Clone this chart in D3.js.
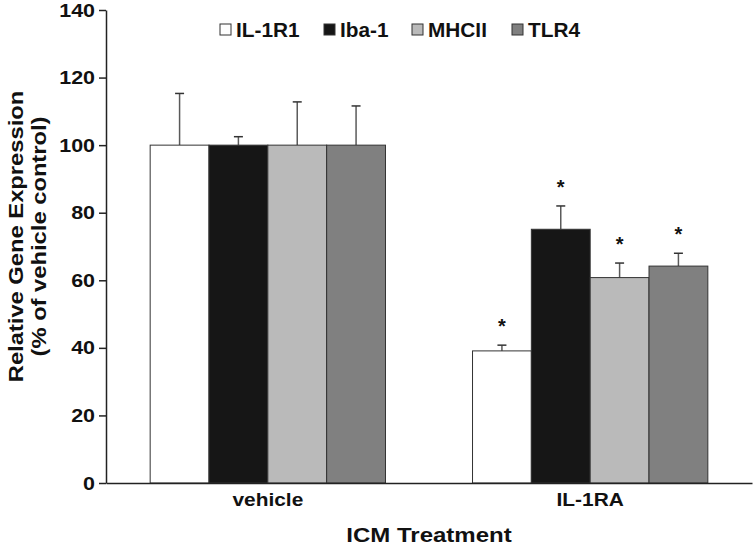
<!DOCTYPE html>
<html>
<head>
<meta charset="utf-8">
<script src="https://cdn.jsdelivr.net/npm/d3@7"></script>
<style>
  html, body { margin: 0; padding: 0; background: #fff; }
  svg { display: block; }
  text { font-family: "Liberation Sans", Arial, Helvetica, sans-serif; font-weight: bold; fill: #111; }
</style>
</head>
<body>
<svg id="chart" width="755" height="549"></svg>
<script>
// ---- data ----
const groups = ["vehicle", "IL-1RA"];
const series = ["IL-1R1", "Iba-1", "MHCII", "TLR4"];
const colors = ["#ffffff", "#161616", "#bababa", "#808080"];
const vehicleValues = [100, 100, 100, 100];
const vehicleErrors = [15.3, 2.5, 12.8, 11.6];
const il1raValues = [39.1, 75.1, 60.8, 64.2];
const il1raErrors = [1.7, 6.9, 4.3, 3.8];
const il1raSignificant = [true, true, true, true];
const yTicks = [0, 20, 40, 60, 80, 100, 120, 140];
const yTitle = ["Relative Gene Expression", "(% of vehicle control)"];
const xTitle = "ICM Treatment";

const rows = [
  { group: groups[0], values: vehicleValues, errors: vehicleErrors, sig: [false, false, false, false] },
  { group: groups[1], values: il1raValues, errors: il1raErrors, sig: il1raSignificant }
];

// horizontal stretch of text to mimic the wide bold face of the original
function stretch(sel, k) {
  sel.each(function () {
    const w = this.getComputedTextLength();
    d3.select(this).attr("textLength", w * k).attr("lengthAdjust", "spacingAndGlyphs");
  });
}

const svg = d3.select("#chart");
const x0 = 106, x1 = 752, yBottom = 483, yTop = 10;

const y = d3.scaleLinear().domain([0, 140]).range([yBottom, yTop]);
const xg = d3.scaleBand().domain(groups).range([x0, x1]).paddingInner(0.27).paddingOuter(0.137);
const xs = d3.scaleBand().domain(series).range([0, xg.bandwidth()]);

// bars
const g = svg.selectAll("g.grp").data(rows).join("g")
  .attr("class", "grp")
  .attr("transform", d => `translate(${xg(d.group)},0)`);

g.each(function (row) {
  const sel = d3.select(this);
  const items = series.map((s, i) => ({ s, i, v: row.values[i], e: row.errors[i], sig: row.sig[i] }));
  sel.selectAll("line.eb").data(items).join("line")
    .attr("class", "eb")
    .attr("x1", d => xs(d.s) + xs.bandwidth() / 2)
    .attr("x2", d => xs(d.s) + xs.bandwidth() / 2)
    .attr("y1", d => y(d.v))
    .attr("y2", d => y(d.v + d.e))
    .attr("stroke", "#5a5a5a").attr("stroke-width", 1.5);
  sel.selectAll("line.cap").data(items).join("line")
    .attr("class", "cap")
    .attr("x1", d => xs(d.s) + xs.bandwidth() / 2 - 4.5)
    .attr("x2", d => xs(d.s) + xs.bandwidth() / 2 + 4.5)
    .attr("y1", d => y(d.v + d.e))
    .attr("y2", d => y(d.v + d.e))
    .attr("stroke", "#333").attr("stroke-width", 1.5);
  sel.selectAll("rect").data(items).join("rect")
    .attr("x", d => xs(d.s))
    .attr("y", d => y(d.v))
    .attr("width", xs.bandwidth())
    .attr("height", d => y(0) - y(d.v))
    .attr("fill", d => colors[d.i])
    .attr("stroke", "#333").attr("stroke-width", 1);
  sel.selectAll("text.star").data(items.filter(d => d.sig)).join("text")
    .attr("class", "star")
    .attr("x", d => xs(d.s) + xs.bandwidth() / 2)
    .attr("y", d => y(d.v + d.e) - 12)
    .attr("text-anchor", "middle")
    .attr("font-size", 20)
    .text("*");
});

// y axis
const yAxis = d3.axisLeft(y).tickValues(yTicks).tickSize(7).tickSizeOuter(0).tickPadding(4);
const ya = svg.append("g").attr("transform", `translate(${x0},0)`).call(yAxis);
ya.select(".domain").attr("stroke", "#222").attr("stroke-width", 1.5);
ya.selectAll(".tick line").attr("stroke", "#222").attr("stroke-width", 1.5);
ya.selectAll(".tick text").attr("font-size", 19).attr("fill", "#111")
  .attr("font-family", "'Liberation Sans', Arial, sans-serif").attr("font-weight", "bold");
stretch(ya.selectAll(".tick text"), 1.13);

// x axis
const xAxis = d3.axisBottom(xg).tickSize(0).tickSizeOuter(0).tickPadding(10);
const xa = svg.append("g").attr("transform", `translate(0,${yBottom})`).call(xAxis);
xa.select(".domain").attr("stroke", "#222").attr("stroke-width", 1.5);
xa.selectAll(".tick text").attr("font-size", 19).attr("fill", "#111")
  .attr("font-family", "'Liberation Sans', Arial, sans-serif").attr("font-weight", "bold");
stretch(xa.selectAll(".tick text"), 1.1);

// axis titles
const xt = svg.append("text")
  .attr("x", 429).attr("y", 542)
  .attr("text-anchor", "middle").attr("font-size", 20)
  .text(xTitle);
stretch(xt, 1.2);

const ytx = [23, 46];
yTitle.forEach((t, i) => {
  const el = svg.append("text")
    .attr("transform", `translate(${ytx[i]},236.5) rotate(-90)`)
    .attr("text-anchor", "middle").attr("font-size", 21)
    .text(t);
  stretch(el, 1.13);
});

// legend
const legendX = [220, 324, 412, 512];
const lg = svg.selectAll("g.leg").data(series).join("g")
  .attr("class", "leg")
  .attr("transform", (d, i) => `translate(${legendX[i]},24)`);
lg.append("rect").attr("width", 11).attr("height", 11)
  .attr("fill", (d, i) => colors[i]).attr("stroke", "#333").attr("stroke-width", 1);
const lt = lg.append("text").attr("x", 16).attr("y", 13).attr("font-size", 20).text(d => d);
stretch(lt, 1.04);
</script>
</body>
</html>
